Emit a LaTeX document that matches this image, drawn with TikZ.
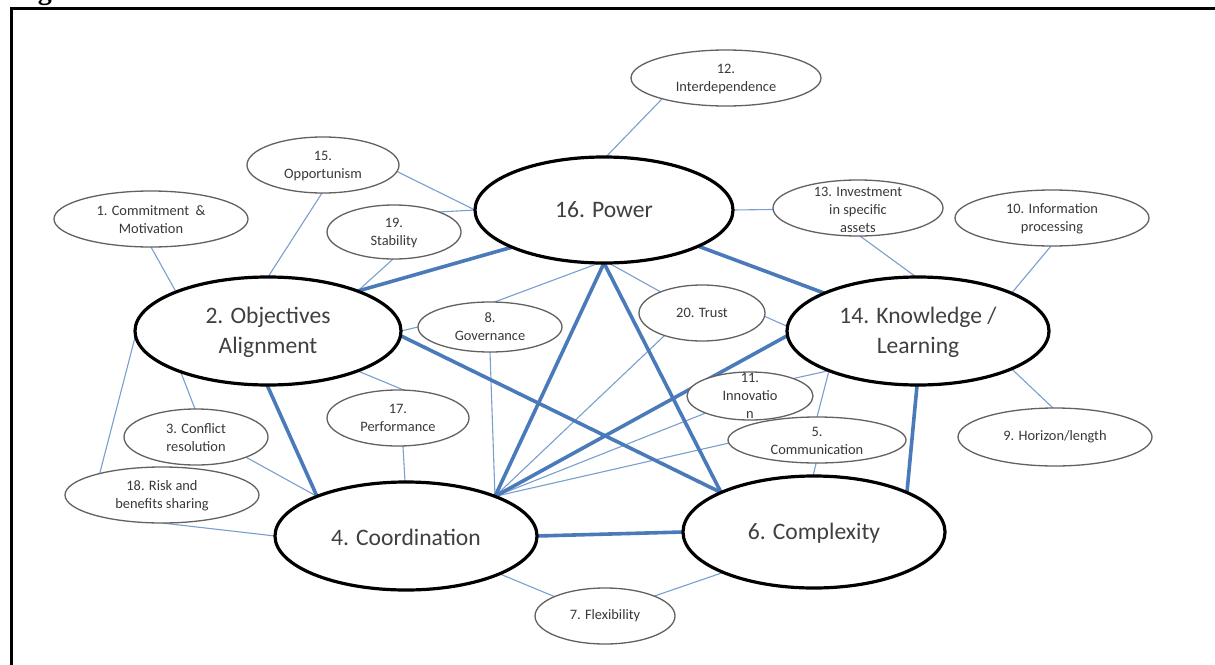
\documentclass[tikz,border=0pt]{standalone}
\usepackage{fontspec}
\setmainfont{Carlito}
\newfontfamily\figserif{Liberation Serif}
\usetikzlibrary{shapes.geometric}
\pgfdeclarelayer{background}
\pgfsetlayers{background,main}
\definecolor{thinc}{RGB}{122,158,206}
\definecolor{thickc}{RGB}{74,122,185}
\begin{document}
\begin{tikzpicture}[x=0.5pt,y=-0.5pt,
  big/.style={ellipse, draw=black, line width=1.6pt, fill=white, inner sep=0pt, outer sep=0pt},
  small/.style={ellipse, draw=black!62, line width=0.65pt, fill=white, inner sep=0pt, outer sep=0pt},
  bigtxt/.style={align=center, text=black!75, font=\fontsize{11.8}{15}\selectfont, inner sep=0pt},
  smalltxt/.style={align=center, text=black!78, font=\fontsize{7.2}{9}\selectfont, inner sep=0pt},
  lnthin/.style={draw=thinc, line width=0.55pt},
  lnthick/.style={draw=thickc, line width=1.8pt},
]
\useasboundingbox (0,0) rectangle (1215,664);
% frame
\node[anchor=base, font=\figserif\bfseries\fontsize{14}{16}\selectfont, inner sep=0pt] (figg) at (45,-1) {g};
\coordinate (fbl) at (11.25,664);
\coordinate (ftl) at (11.25,8.5);
\coordinate (ftr) at (1215,8.5);
\draw[line width=1.75pt, line cap=rect] (fbl) -- (ftl) -- (ftr);

% main ellipses
\node[big, minimum width=129pt, minimum height=53pt] (pow) at (604,210) {};
\node[big, minimum width=133pt, minimum height=54pt] (obj) at (268,331) {};
\node[big, minimum width=131pt, minimum height=54pt] (kno) at (918,331) {};
\node[big, minimum width=131pt, minimum height=54pt] (coo) at (406,536) {};
\node[big, minimum width=131pt, minimum height=56pt] (cpx) at (814,532) {};
\node[bigtxt] (powt) at (604,210) {16. Power};
\node[bigtxt] (objt) at (268,332) {2. Objectives\\Alignment};
\node[bigtxt] (knot) at (918,332) {14. Knowledge /\\Learning};
\node[bigtxt] (coot) at (406,537) {4. Coordination};
\node[bigtxt] (cpxt) at (814,533) {6. Complexity};

% small ellipses
\node[small, minimum width=95pt, minimum height=28pt] (n12) at (726,78) {};
\node[small, minimum width=76pt, minimum height=28pt] (n15) at (323,165) {};
\node[small, minimum width=97pt, minimum height=28pt] (n1) at (151,219) {};
\node[small, minimum width=67pt, minimum height=27pt] (n19) at (394,232) {};
\node[small, minimum width=85pt, minimum height=28pt] (n13) at (858,208) {};
\node[small, minimum width=97pt, minimum height=28pt] (n10) at (1052,218) {};
\node[small, minimum width=72pt, minimum height=25pt] (n8) at (490,327) {};
\node[small, minimum width=63pt, minimum height=28pt] (n20) at (702,313) {};
\node[small, minimum width=63pt, minimum height=24pt] (n11) at (750,396) {};
\node[small, minimum width=89pt, minimum height=23pt] (n5) at (817,440) {};
\node[small, minimum width=71pt, minimum height=28pt] (n17) at (398,418) {};
\node[small, minimum width=72pt, minimum height=28pt] (n3) at (196,437) {};
\node[small, minimum width=97pt, minimum height=28pt] (n18) at (162,495) {};
\node[small, minimum width=97pt, minimum height=29pt] (n9) at (1055,437) {};
\node[small, minimum width=70pt, minimum height=28pt] (n7) at (605,616) {};

\node[smalltxt] (n12t) at (726,79) {12.\\Interdependence};
\node[smalltxt] (n15t) at (323,166) {15.\\Opportunism};
\node[smalltxt] (n1t) at (151,220) {1. Commitment~ \&\\Motivation};
\node[smalltxt] (n19t) at (394,233) {19.\\Stability};
\node[smalltxt] (n13t) at (858,210) {13. Investment\\in specific\\assets};
\node[smalltxt] (n10t) at (1052,219) {10. Information\\processing};
\node[smalltxt] (n8t) at (490,327) {8.\\Governance};
\node[smalltxt] (n20t) at (702,313) {20. Trust};
\node[smalltxt] (n11t) at (750,396) {11.\\Innovatio\\n};
\node[smalltxt] (n5t) at (817,441) {5.\\Communication};
\node[smalltxt] (n17t) at (398,418) {17.\\Performance};
\node[smalltxt] (n3t) at (196,438) {3. Conflict\\resolution};
\node[smalltxt] (n18t) at (162,496) {18. Risk and\\benefits sharing};
\node[smalltxt] (n9t) at (1055,437) {9. Horizon/length};
\node[smalltxt] (n7t) at (605,616) {7. Flexibility};

\begin{pgfonlayer}{background}
% thin connectors
\draw[lnthin] (n12.198) -- (pow.88);
\draw[lnthin] (n15.-5) -- (pow.180);
\draw[lnthin] (n19.24) -- (pow.180);
\draw[lnthin] (pow.0) -- (n13.181);
\draw[lnthin] (n15.268) -- (obj.90);
\draw[lnthin] (n1.270) -- (obj.157);
\draw[lnthin] (n19.268) -- (obj.24);
\draw[lnthin] (obj.0) -- (n8.180);
\draw[lnthin] (pow.-95) -- (n8.80);
\draw[lnthin] (pow.-85) -- (n20.153);
\draw[lnthin] (n8.-90) -- (coo.24);
\draw[lnthin] (n20.-149) -- (coo.24);
\draw[lnthin] (n20.-3) -- (kno.178);
\draw[lnthin] (obj.-24) -- (n17.78);
\draw[lnthin] (obj.-155) -- (n3.92);
\draw[lnthin] (obj.182) -- (n18.161);
\draw[lnthin] (n3.-22) -- (coo.156);
\draw[lnthin] (n17.-80) -- (coo.91);
\draw[lnthin] (n18.-90) -- (coo.180);
\draw[lnthin] (coo.-22) -- (n7.159);
\draw[lnthin] (n7.22) -- (cpx.-156);
\draw[lnthin] (n13.-86) -- (kno.92);
\draw[lnthin] (n10.-92) -- (kno.22);
\draw[lnthin] (kno.-22) -- (n9.94);
\draw[lnthin] (kno.-156) -- (n5.90);
\draw[lnthin] (kno.-156) -- (n11.22);
\draw[lnthin] (coo.24) -- (n11.-159);
\draw[lnthin] (coo.24) -- (n5.-178);
\draw[lnthin] (n5.-92) -- (cpx.91);
% thick connectors
\draw[lnthick] (obj.24) -- (pow.-158);
\draw[lnthick] (pow.-21) -- (kno.158);
\draw[lnthick] (pow.-90) -- (coo.24);
\draw[lnthick] (pow.-90) -- (cpx.157);
\draw[lnthick] (obj.-2) -- (cpx.157);
\draw[lnthick] (obj.-91) -- (coo.156);
\draw[lnthick] (kno.-178) -- (coo.24);
\draw[lnthick] (kno.-91) -- (cpx.23);
\draw[lnthick] (coo.0) -- (cpx.180);
\end{pgfonlayer}
\end{tikzpicture}
\end{document}
